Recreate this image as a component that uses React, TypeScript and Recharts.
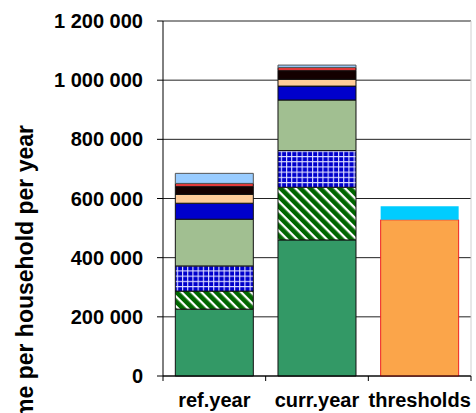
import { Bar, BarChart, CartesianGrid, XAxis, YAxis } from "recharts";

const categories = ["ref.year", "curr.year", "thresholds"];

// stacked segments, bottom to top
const green = [226000, 460000, 0];
const stripes = [61000, 178000, 0];
const checks = [85000, 124000, 0];
const sage = [158000, 171000, 0];
const blue = [54000, 47000, 0];
const peach = [30000, 23000, 0];
const black = [26000, 29000, 0];
const red = [11000, 11000, 0];
const lightBlue = [34000, 8000, 0];
const threshold = [0, 0, 528000];
const thresholdTop = [0, 0, 46000];

const yTicks = [0, 200000, 400000, 600000, 800000, 1000000, 1200000];

const rows = categories.map((name, i) => ({
  name,
  green: green[i],
  stripes: stripes[i],
  checks: checks[i],
  sage: sage[i],
  blue: blue[i],
  peach: peach[i],
  black: black[i],
  red: red[i],
  lightBlue: lightBlue[i],
  threshold: threshold[i],
  thresholdTop: thresholdTop[i]
}));

const FONT = "Arial, 'Liberation Sans', sans-serif";

function spaced(v: number): string {
  return String(v).replace(/\B(?=(\d{3})+(?!\d))/g, " ");
}

function CategoryTick(props: any) {
  const { x, y, payload, index } = props;
  const half = payload?.offset ?? 51.5;
  const axisY = y - 17;
  return (
    <g>
      <line x1={x - half} x2={x - half} y1={axisY} y2={axisY + 5} stroke="#000" />
      {index === categories.length - 1 && (
        <line x1={x + half} x2={x + half} y1={axisY} y2={axisY + 5} stroke="#000" />
      )}
      <text x={x} y={y} dy="0.71em" textAnchor="middle" fill="#000" fontSize={20} fontWeight="bold" fontFamily={FONT}>
        {payload.value}
      </text>
    </g>
  );
}

function YLabel() {
  return (
    <text
      x={33}
      y={125}
      transform="rotate(-90, 33, 125)"
      textAnchor="end"
      fill="#000"
      fontSize={23}
      fontWeight="bold"
      fontFamily={FONT}
    >
      Income per household per year
    </text>
  );
}

export default function App() {
  return (
    <div style={{ position: "absolute", left: 0, top: 0, background: "#fff" }}>
      <BarChart
        width={476}
        height={413}
        data={rows}
        margin={{ top: 21, right: 5, bottom: 0, left: 0 }}
        barCategoryGap="12%"
      >
        <defs>
          <pattern id="diag" width={7} height={7} patternUnits="userSpaceOnUse" patternTransform="rotate(45)">
            <rect width={7} height={7} fill="#006600" />
            <rect width={7} height={2.3} fill="#fff" />
          </pattern>
          <pattern id="grid" width={5.2} height={5.2} patternUnits="userSpaceOnUse">
            <rect width={5.2} height={5.2} fill="#0000cc" />
            <rect width={5.2} height={1.1} fill="#e0e0ff" />
            <rect width={1.1} height={5.2} fill="#e0e0ff" />
          </pattern>
        </defs>
        <CartesianGrid horizontal vertical={false} stroke="#222" />
        <CartesianGrid horizontal={false} verticalPoints={[471]} stroke="#d0d0d0" />
        <XAxis
          dataKey="name"
          height={37}
          axisLine={{ stroke: "#000" }}
          tickLine={false}
          tickSize={5}
          tickMargin={12}
          interval={0}
          tick={<CategoryTick />}
        />
        <YAxis
          width={163}
          domain={[0, 1200000]}
          ticks={yTicks}
          tickFormatter={spaced}
          axisLine={{ stroke: "#000" }}
          tickLine={{ stroke: "#000" }}
          tickSize={6}
          tickMargin={14}
          tick={{ fill: "#000", fontSize: 20, fontWeight: "bold", fontFamily: FONT }}
          label={<YLabel />}
        />
        <Bar dataKey="green" stackId="a" fill="#339966" stroke="#111" isAnimationActive={false} />
        <Bar dataKey="stripes" stackId="a" fill="url(#diag)" stroke="#111" isAnimationActive={false} />
        <Bar dataKey="checks" stackId="a" fill="url(#grid)" stroke="#111" isAnimationActive={false} />
        <Bar dataKey="sage" stackId="a" fill="#a1bf91" stroke="#111" isAnimationActive={false} />
        <Bar dataKey="blue" stackId="a" fill="#0000cc" stroke="#111" isAnimationActive={false} />
        <Bar dataKey="peach" stackId="a" fill="#ffcc99" stroke="#111" isAnimationActive={false} />
        <Bar dataKey="black" stackId="a" fill="#140000" stroke="#111" isAnimationActive={false} />
        <Bar dataKey="red" stackId="a" fill="#e23a3a" stroke="#111" isAnimationActive={false} />
        <Bar dataKey="lightBlue" stackId="a" fill="#99ccff" stroke="#555" isAnimationActive={false} />
        <Bar dataKey="threshold" stackId="a" fill="#fba54a" stroke="#ee2222" isAnimationActive={false} />
        <Bar dataKey="thresholdTop" stackId="a" fill="#00ccff" isAnimationActive={false} />
      </BarChart>
    </div>
  );
}
